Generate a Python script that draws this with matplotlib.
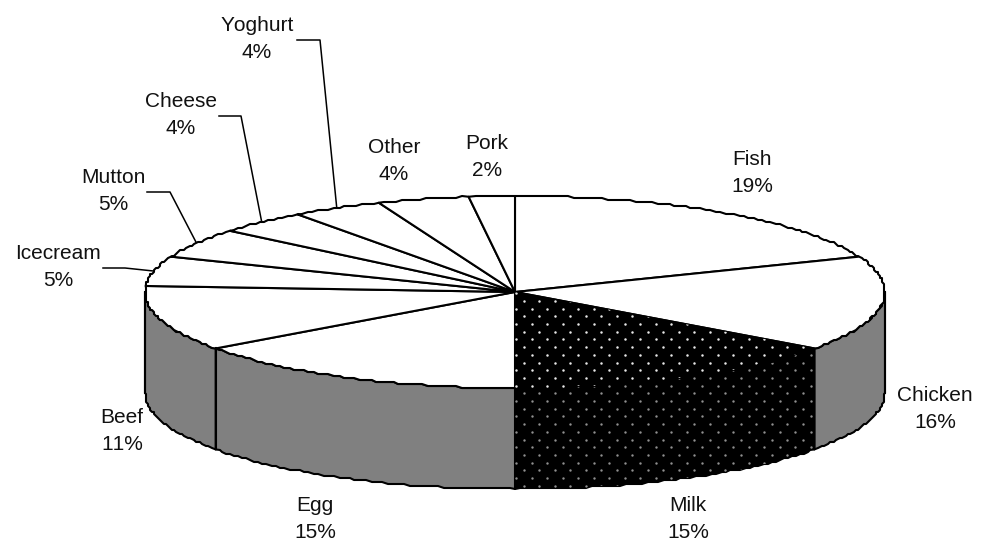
import numpy as np
import matplotlib
matplotlib.use('Agg')
import matplotlib.pyplot as plt
from matplotlib.patches import Polygon

labels = ['Fish', 'Chicken', 'Milk', 'Egg', 'Beef', 'Icecream', 'Mutton', 'Cheese', 'Yoghurt', 'Other', 'Pork']
values = [19, 16, 15, 15, 11, 5, 5, 4, 4, 4, 2]
label_pos = [(752, 173), (935, 409), (688, 519), (315, 519), (122, 431), (58, 267),
             (113, 191), (181, 115), (257, 39), (394, 161), (487, 157)]
leaders = {'Icecream': [(103, 268), (125, 268)], 'Mutton': [(147, 192), (170, 192)],
           'Cheese': [(219, 116), (241, 116)], 'Yoghurt': [(297, 40), (320, 40)]}

cx, cy = 515, 292
rx, ry = 370, 96
depth = 101
GREY = '#808080'

plt.rcParams['font.family'] = 'Liberation Sans'
plt.rcParams['text.kerning_factor'] = 6


def rim(pct, dy=0):
    a = np.asarray(pct) * 3.6 * np.pi / 180
    return cx + rx * np.sin(a), cy + dy - ry * np.cos(a)


def arc(p0, p1, dy=0):
    # slightly stepped outline, the rim is not a perfectly smooth curve
    t = np.linspace(p0, p1, max(int(abs(p1 - p0) * 4), 2))
    x, y = rim(t, dy)
    x[1:-1] = np.round(x[1:-1] / 2) * 2
    y[1:-1] = np.round(y[1:-1] / 2) * 2
    return np.column_stack([x, y])


fig = plt.figure(figsize=(9.88, 5.43), dpi=100)
ax = fig.add_axes([0, 0, 1, 1])
ax.set_xlim(0, 988)
ax.set_ylim(543, 0)
ax.axis('off')

edges = np.concatenate([[0], np.cumsum(values)])

# side wall, only the front half of the disc shows
for i in range(len(values)):
    p0, p1 = max(edges[i], 25), min(edges[i + 1], 75)
    if p0 >= p1:
        continue
    pts = np.vstack([arc(p0, p1), arc(p0, p1, depth)[::-1]])
    dark = labels[i] == 'Milk'
    wall = Polygon(pts, closed=True, fc='black' if dark else GREY, ec='black', lw=1.5, zorder=2, joinstyle='round')
    ax.add_patch(wall)

# top face
for i in range(len(values)):
    pts = np.vstack([[cx, cy], arc(edges[i], edges[i + 1])])
    dark = labels[i] == 'Milk'
    face = Polygon(pts, closed=True, fc='black' if dark else 'white', ec='black', lw=1.5, zorder=3, joinstyle='round')
    ax.add_patch(face)
    if dark:
        # dot fill of the milk slice, top and side
        rows = np.arange(308.7 - 7.7 * 4, 500, 7.7)
        dx, dy = [], []
        for k, row_y in enumerate(rows):
            xs = np.arange(531.7 - 15.5 * 2 + (7.75 if k % 2 else 0), 830, 15.5)
            dx.extend(xs)
            dy.extend([row_y] * len(xs))
        dx, dy = np.array(dx), np.array(dy)
        top = ax.scatter(dx, dy, s=3.2, c='#e8e8e8', lw=0, zorder=4)
        top.set_clip_path(face)
        side_pts = np.vstack([arc(edges[i], edges[i + 1]), arc(edges[i], edges[i + 1], depth)[::-1]])
        side = Polygon(side_pts, closed=True, fc='none', ec='none', zorder=1)
        ax.add_patch(side)
        low = ax.scatter(dx, dy, s=3.0, c='#909090', lw=0, zorder=2.5)
        low.set_clip_path(side)

# wall seam between egg and beef, and the outer silhouette
sx, sy = rim(edges[4])
ax.plot([sx, sx], [sy, sy + depth], color='black', lw=1.5, zorder=3)
for pct in (25, 75):
    ex, ey = rim(pct)
    ax.plot([ex, ex], [ey, ey + depth], color='black', lw=1.5, zorder=3)

# labels and leader lines
for i, name in enumerate(labels):
    x, y = label_pos[i]
    ax.text(x, y, '%s\n%d%%' % (name, values[i]), ha='center', va='center', fontsize=15,
            linespacing=1.58, color='#111111', zorder=6)
    if name in leaders:
        lx, ly = rim((edges[i] + edges[i + 1]) / 2)
        path = leaders[name] + [(lx, ly)]
        ax.plot([p[0] for p in path], [p[1] for p in path], color='black', lw=1.1, zorder=1)

fig.savefig('out.png', dpi=100)
